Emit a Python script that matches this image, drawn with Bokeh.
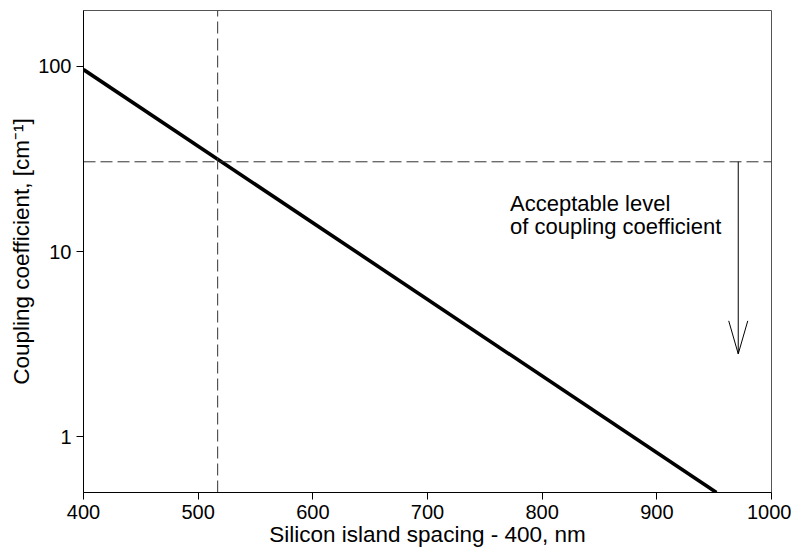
import numpy as np
from bokeh.plotting import figure
from bokeh.models import FixedTicker, Range1d
from bokeh.embed import file_html
from bokeh.resources import INLINE
from bokeh.core.properties import value

# data
curve_x = [400, 952]
curve_y = [96.0, 0.5]
threshold_x = 517
threshold_y = 30.5
arrow_x = 971
arrow_y_top = 30.5
arrow_y_tip = 2.8
x_ticks = [400, 500, 600, 700, 800, 900, 1000]
y_ticks = [1, 10, 100]
note_lines = ["Acceptable level", "of coupling coefficient"]
note_x = [772, 772]
note_y = [18.2, 13.7]

FONT = "Liberation Sans"

p = figure(width=791, height=556, output_backend="svg", toolbar_location=None,
           y_axis_type="log", x_range=Range1d(400, 1000), y_range=Range1d(0.5, 200),
           min_border_left=83, min_border_right=20, min_border_top=10, min_border_bottom=64)

p.background_fill_color = "white"
p.border_fill_color = "white"
p.outline_line_color = "#555555"
p.outline_line_width = 1
p.xgrid.visible = False
p.ygrid.visible = False

for ax in (p.xaxis[0], p.yaxis[0]):
    ax.major_tick_out = 7
    ax.major_tick_in = 0
    ax.minor_tick_out = 0
    ax.minor_tick_in = 0
    ax.axis_line_color = "black"
    ax.major_tick_line_color = "black"
    ax.major_label_text_font = FONT
    ax.major_label_text_font_size = "20px"
    ax.major_label_text_color = "black"
    ax.axis_label_text_font = FONT
    ax.axis_label_text_font_size = "22.5px"
    ax.axis_label_text_font_style = "normal"
    ax.axis_label_text_color = "black"
    ax.major_label_standoff = 5

p.xaxis.ticker = FixedTicker(ticks=x_ticks)
p.yaxis.ticker = FixedTicker(ticks=y_ticks)
p.yaxis.major_label_overrides = {1: "1", 10: "10", 100: "100"}
p.xaxis.axis_label = "Silicon island spacing - 400, nm"
p.yaxis.axis_label = "Coupling coefficient, [cm\u207b\u00b9]"
p.xaxis.axis_label_standoff = 0
p.yaxis.axis_label_standoff = 1

# main curve
p.line(curve_x, curve_y, line_color="black", line_width=3.6)

# threshold dashed lines
p.line([threshold_x, threshold_x], [0.5, 200], line_color="#333333", line_width=1, line_dash="12 5")
p.line([400, 1000], [threshold_y, threshold_y], line_color="#333333", line_width=1, line_dash="12 5")

# arrow shaft and open head
p.line([arrow_x, arrow_x], [arrow_y_top, arrow_y_tip], line_color="black", line_width=1)
head_back = arrow_y_tip * 10 ** (33 / 185)
half_w = 8.3
p.segment(x0=[arrow_x, arrow_x], y0=[arrow_y_tip, arrow_y_tip],
          x1=[arrow_x - half_w, arrow_x + half_w], y1=[head_back, head_back],
          line_color="black", line_width=1)

p.text(x=note_x, y=note_y, text=note_lines, text_font=value(FONT),
       text_font_size="22px", text_color="black", text_baseline="alphabetic", text_align="left")

open("out.html", "w").write(file_html(p, INLINE))
